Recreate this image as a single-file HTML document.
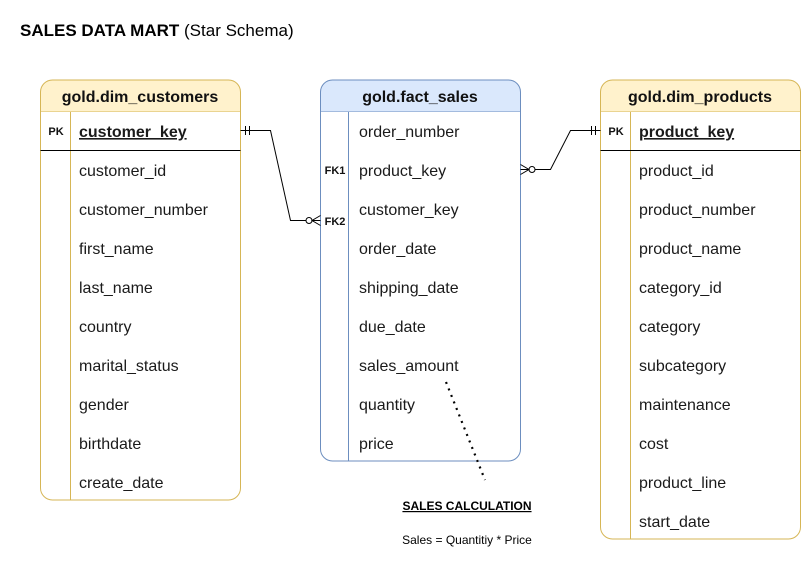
<!DOCTYPE html>
<html><head><meta charset="utf-8"><style>
body{margin:0;background:#fff;width:801px;height:573px;overflow:hidden}
svg{display:block;font-family:"Liberation Sans",Arial,sans-serif}
.f{font-size:16px;fill:#1a1a1a}
.h{font-size:16px;font-weight:bold;fill:#111}
.k{font-size:11px;font-weight:bold;fill:#111}
</style></head><body>
<svg width="801" height="573" viewBox="0 0 801 573">
<text x="20" y="36" font-size="17"><tspan font-weight="bold">SALES DATA MART</tspan> (Star Schema)</text>

<g>
<path d="M40.5,112 V92 a12,12 0 0 1 12,-12 H228.5 a12,12 0 0 1 12,12 V112 Z" fill="#fff2cc" stroke="#d6b656"/>
<path d="M40.5,112 V488 a12,12 0 0 0 12,12 H228.5 a12,12 0 0 0 12,-12 V112" fill="#fff" stroke="#d6b656"/>
<line x1="70.5" y1="112" x2="70.5" y2="500" stroke="#d6b656"/>
<line x1="40.5" y1="150.5" x2="240.5" y2="150.5" stroke="#000"/>
<text x="140" y="102" text-anchor="middle" class="h">gold.dim_customers</text>
<text x="56" y="135" text-anchor="middle" class="k">PK</text>
<text x="79" y="137" class="f" font-weight="bold" text-decoration="underline">customer_key</text>
<text x="79" y="176" class="f">customer_id</text>
<text x="79" y="215" class="f">customer_number</text>
<text x="79" y="254" class="f">first_name</text>
<text x="79" y="293" class="f">last_name</text>
<text x="79" y="332" class="f">country</text>
<text x="79" y="371" class="f">marital_status</text>
<text x="79" y="410" class="f">gender</text>
<text x="79" y="449" class="f">birthdate</text>
<text x="79" y="488" class="f">create_date</text>
</g>

<g>
<path d="M320.5,112 V92 a12,12 0 0 1 12,-12 H508.5 a12,12 0 0 1 12,12 V112 Z" fill="#dae8fc" stroke="#6c8ebf"/>
<path d="M320.5,112 V449 a12,12 0 0 0 12,12 H508.5 a12,12 0 0 0 12,-12 V112" fill="#fff" stroke="#6c8ebf"/>
<line x1="348.5" y1="112" x2="348.5" y2="461" stroke="#6c8ebf"/>
<text x="420" y="102" text-anchor="middle" class="h">gold.fact_sales</text>
<text x="335" y="174" text-anchor="middle" class="k">FK1</text>
<text x="335" y="225" text-anchor="middle" class="k">FK2</text>
<text x="359" y="137" class="f">order_number</text>
<text x="359" y="176" class="f">product_key</text>
<text x="359" y="215" class="f">customer_key</text>
<text x="359" y="254" class="f">order_date</text>
<text x="359" y="293" class="f">shipping_date</text>
<text x="359" y="332" class="f">due_date</text>
<text x="359" y="371" class="f">sales_amount</text>
<text x="359" y="410" class="f">quantity</text>
<text x="359" y="449" class="f">price</text>
</g>

<g>
<path d="M600.5,112 V92 a12,12 0 0 1 12,-12 H788.5 a12,12 0 0 1 12,12 V112 Z" fill="#fff2cc" stroke="#d6b656"/>
<path d="M600.5,112 V527 a12,12 0 0 0 12,12 H788.5 a12,12 0 0 0 12,-12 V112" fill="#fff" stroke="#d6b656"/>
<line x1="630.5" y1="112" x2="630.5" y2="539" stroke="#d6b656"/>
<line x1="600.5" y1="150.5" x2="800.5" y2="150.5" stroke="#000"/>
<text x="700" y="102" text-anchor="middle" class="h">gold.dim_products</text>
<text x="616" y="135" text-anchor="middle" class="k">PK</text>
<text x="639" y="137" class="f" font-weight="bold" text-decoration="underline">product_key</text>
<text x="639" y="176" class="f">product_id</text>
<text x="639" y="215" class="f">product_number</text>
<text x="639" y="254" class="f">product_name</text>
<text x="639" y="293" class="f">category_id</text>
<text x="639" y="332" class="f">category</text>
<text x="639" y="371" class="f">subcategory</text>
<text x="639" y="410" class="f">maintenance</text>
<text x="639" y="449" class="f">cost</text>
<text x="639" y="488" class="f">product_line</text>
<text x="639" y="527" class="f">start_date</text>
</g>

<g fill="none" stroke="#000">
<polyline points="240.5,130.5 270.5,130.5 290.5,220.5 320.5,220.5"/>
<line x1="245.5" y1="126" x2="245.5" y2="135"/><line x1="249.5" y1="126" x2="249.5" y2="135"/>
<circle cx="309" cy="220.5" r="3" fill="#fff"/>
<polyline points="320.5,215.5 312,220.5 320.5,225.5"/>
</g>
<g fill="none" stroke="#000">
<polyline points="600.5,130.5 570.5,130.5 550.5,169.5 520.5,169.5"/>
<line x1="595.5" y1="126" x2="595.5" y2="135"/><line x1="591.5" y1="126" x2="591.5" y2="135"/>
<circle cx="532" cy="169.5" r="3" fill="#fff"/>
<polyline points="520.5,164.5 529,169.5 520.5,174.5"/>
</g>
<line x1="446" y1="382" x2="485" y2="480" stroke="#000" stroke-width="2.2" stroke-dasharray="2,5"/>
<text x="467" y="510" text-anchor="middle" font-size="12" font-weight="bold" text-decoration="underline">SALES CALCULATION</text>
<text x="467" y="544" text-anchor="middle" font-size="12">Sales = Quantitiy * Price</text>
</svg>
</body></html>
